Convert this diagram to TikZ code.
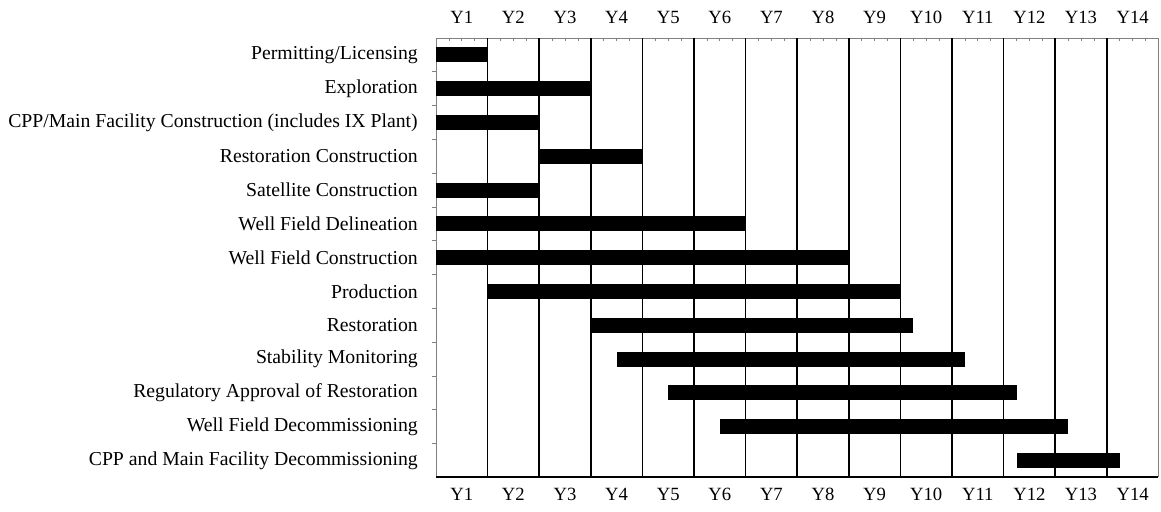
\documentclass[tikz,border=0pt]{standalone}
\usepackage{fontspec}
\setmainfont{Liberation Serif}
\begin{document}
\begin{tikzpicture}[x=0.75pt,y=-0.75pt,
		yr/.style={font=\fontsize{14}{16}\selectfont,inner sep=0pt},
		task/.style={anchor=east,font=\fontsize{14.8}{17}\selectfont,inner sep=0pt},
		yline/.style={line width=1.3pt},
		axis/.style={gray,line width=0.5pt}]
		\useasboundingbox (0,0) rectangle (1161,511);
		\draw [axis](436,477)--(436,38)--(1158,38)--(1158,477);
		\foreach \q in {1,...,55}
			\draw [axis]({436+12.9*\q},38)--({436+12.9*\q},41);
		\foreach \i in {1,...,12}
			\draw [axis](432,{38+33.8*\i})--(436,{38+33.8*\i});
		\foreach \k in {1,...,13}
			\draw [yline]({436+51.6*\k},38)--({436+51.6*\k},477);
		\draw [yline](436,477)--(1158,477);
		\foreach \k in {1,...,14}{
			\node [yr] (top\k) at ({436+51.6*(\k-0.5)},17){Y\k};
			\node [yr] (bot\k) at ({436+51.6*(\k-0.5)},494){Y\k};
		}
		\foreach \t/\a/\b [count=\i] in {{Permitting/Licensing}/0/1,
				Exploration/0/3,
				{CPP/Main Facility Construction (includes IX Plant)}/0/2,
				Restoration Construction/2/4,
				Satellite Construction/0/2,
				Well Field Delineation/0/6,
				Well Field Construction/0/8,
				Production/1/9,
				Restoration/3/9.25,
				Stability Monitoring/3.5/10.25,
				Regulatory Approval of Restoration/4.5/11.25,
				Well Field Decommissioning/5.5/12.25,
				CPP and Main Facility Decommissioning/11.25/13.25}{
			\node [task] (task\i) at (418,{38+33.8*(\i-0.5)}){\t};
			\fill ({436+51.6*\a},{38+33.8*(\i-0.5)-7.5})rectangle({436+51.6*\b},{38+33.8*(\i-0.5)+7.5});
		}
\end{tikzpicture}
\end{document}
